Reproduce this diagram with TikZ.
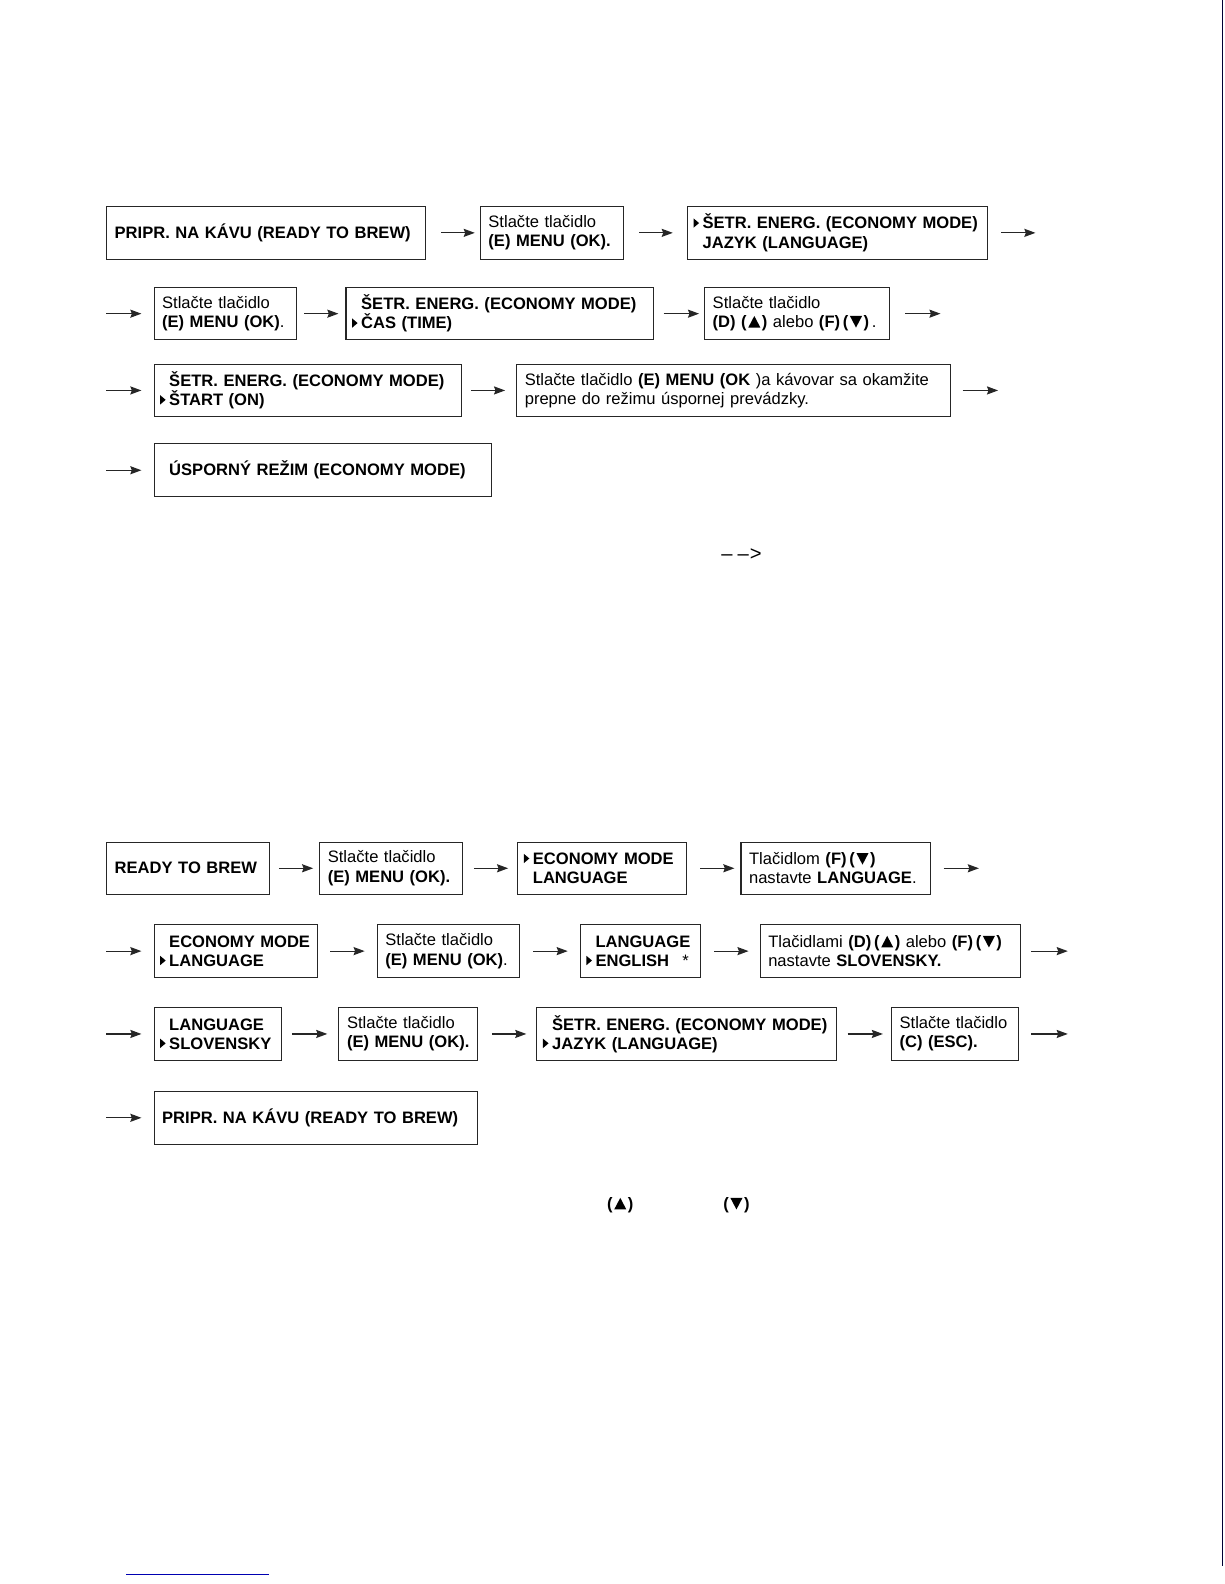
\documentclass[tikz,border=0pt]{standalone}
\usepackage{fontspec}
\setmainfont{Liberation Sans}
\usetikzlibrary{arrows.meta}

\newcommand{\fsz}{\fontsize{16.4}{19}\selectfont}
% cursor marker in front of the selected menu line
\newcommand{\mk}{\hspace*{-2pt}\makebox[9pt][l]{\tikz[x=1pt,y=1pt,baseline=0pt]\fill (0,1.2)--(0,10.5)--(5.5,5.85)--cycle;}}
\newcommand{\nomk}{\hspace*{7pt}}
% key symbols
\newcommand{\keyup}{\hspace{1.5pt}\tikz[x=1pt,y=1pt,baseline=0pt]\fill (0.5,0)--(12.5,0)--(6.5,11.5)--cycle;\hspace{1.5pt}}
\newcommand{\keydn}{\hspace{1.5pt}\tikz[x=1pt,y=1pt,baseline=0pt]\fill (0.5,11.5)--(12.5,11.5)--(6.5,0)--cycle;\hspace{1.5pt}}

\tikzset{
  menubox/.style={draw=black!85, line width=1pt, anchor=north west, minimum height=52pt,
    inner xsep=8pt, inner ysep=2pt, align=left, font=\fsz},
  flow/.style={-{Stealth[length=11pt,width=8pt,inset=1.5pt]}, line width=1.2pt, black!85},
}

\begin{document}
\begin{tikzpicture}[x=1pt, y=-1pt]
    \useasboundingbox (0,0) rectangle (1212,1568);

    % Economy mode sequence
    \node[menubox, text width=300pt] (A1) at (105,204) {\mbox{\textbf{PRIPR. NA KÁVU (READY TO BREW)}}};
    \node[menubox, text width=126pt] (A2) at (475,204) {\mbox{Stlačte tlačidlo}\\\mbox{\textbf{(E) MENU (OK).}}};
    \node[menubox, text width=281pt] (A3) at (680,204) {\mbox{\mk\textbf{ŠETR. ENERG. (ECONOMY MODE)}}\\\mbox{\nomk\textbf{JAZYK (LANGUAGE)}}};

    \node[menubox, text width=125pt] (B1) at (152,284) {\mbox{Stlačte tlačidlo}\\\mbox{\textbf{(E) MENU (OK)}.}};
    \node[menubox, text width=288pt] (B2) at (342,284) {\mbox{\nomk\textbf{ŠETR. ENERG. (ECONOMY MODE)}}\\\mbox{\mk\textbf{ČAS (TIME)}}};
    \node[menubox, text width=167pt] (B3) at (697,284) {\mbox{Stlačte tlačidlo}\\\mbox{\textbf{(D) (\keyup)} alebo \textbf{(F)\,(\keydn)}\,.}};

    \node[menubox, text width=288pt] (C1) at (152,360) {\mbox{\nomk\textbf{ŠETR. ENERG. (ECONOMY MODE)}}\\\mbox{\mk\textbf{ŠTART (ON)}}};
    \node[menubox, text width=413pt] (C2) at (511,360) {\mbox{Stlačte tlačidlo \textbf{(E) MENU (OK} )a kávovar sa okamžite}\\\mbox{prepne do režimu úspornej prevádzky.}};

    \node[menubox, text width=318pt] (D1) at (152,439) {\mbox{\nomk\textbf{ÚSPORNÝ REŽIM (ECONOMY MODE)}}};

    % arrows, economy mode
    \draw[flow, shorten <=15pt, shorten >=5pt] (A1.east) -- (A2.west);
    \draw[flow, shorten <=15pt, shorten >=14pt] (A2.east) -- (A3.west);
    \coordinate (Aout) at ([xshift=47pt]A3.east);
    \draw[flow, shorten <=13pt] (A3.east) -- (Aout);

    \coordinate (Bin) at ([xshift=-47pt]B1.west);
    \draw[flow, shorten >=12pt] (Bin) -- (B1.west);
    \draw[flow, shorten <=7pt, shorten >=7pt] (B1.east) -- (B2.west);
    \draw[flow, shorten <=10pt, shorten >=5pt] (B2.east) -- (B3.west);
    \coordinate (Bout) at ([xshift=50pt]B3.east);
    \draw[flow, shorten <=15pt] (B3.east) -- (Bout);

    \coordinate (Cin) at ([xshift=-47pt]C1.west);
    \draw[flow, shorten >=12pt] (Cin) -- (C1.west);
    \draw[flow, shorten <=9pt, shorten >=11pt] (C1.east) -- (C2.west);
    \coordinate (Cout) at ([xshift=47pt]C2.east);
    \draw[flow, shorten <=12pt] (C2.east) -- (Cout);

    \coordinate (Din) at ([xshift=-47pt]D1.west);
    \draw[flow, shorten >=12pt] (Din) -- (D1.west);

    \node[font=\fontsize{20}{20}\selectfont] (hint) at (734,549) {–\hspace{5pt}–\hspace{1pt}>};

    % Language sequence
    \node[menubox, text width=145pt] (E1) at (105,833) {\mbox{\textbf{READY TO BREW}}};
    \node[menubox, text width=125pt] (E2) at (316,833) {\mbox{Stlačte tlačidlo}\\\mbox{\textbf{(E) MENU (OK).}}};
    \node[menubox, text width=151pt] (E3) at (512,833) {\mbox{\mk\textbf{ECONOMY MODE}}\\\mbox{\nomk\textbf{LANGUAGE}}};
    \node[menubox, text width=172pt] (E4) at (733,833) {\mbox{Tlačidlom \textbf{(F)\,(\keydn)}}\\\mbox{nastavte \textbf{LANGUAGE}.}};

    \node[menubox, text width=146pt] (F1) at (152,915) {\mbox{\nomk\textbf{ECONOMY MODE}}\\\mbox{\mk\textbf{LANGUAGE}}};
    \node[menubox, text width=125pt] (F2) at (373,915) {\mbox{Stlačte tlačidlo}\\\mbox{\textbf{(E) MENU (OK)}.}};
    \node[menubox, text width=103pt] (F3) at (574,915) {\mbox{\nomk\textbf{LANGUAGE}}\\\mbox{\mk\textbf{ENGLISH}\hspace{13pt}*}};
    \node[menubox, text width=242pt] (F4) at (752,915) {\mbox{Tlačidlami \textbf{(D)\,(\keyup)} alebo \textbf{(F)\,(\keydn)}}\\\mbox{nastavte \textbf{SLOVENSKY.}}};

    \node[menubox, text width=110pt] (G1) at (152,997) {\mbox{\nomk\textbf{LANGUAGE}}\\\mbox{\mk\textbf{SLOVENSKY}}};
    \node[menubox, text width=121pt] (G2) at (335,997) {\mbox{Stlačte tlačidlo}\\\mbox{\textbf{(E) MENU (OK).}}};
    \node[menubox, text width=281pt] (G3) at (531,997) {\mbox{\nomk\textbf{ŠETR. ENERG. (ECONOMY MODE)}}\\\mbox{\mk\textbf{JAZYK (LANGUAGE)}}};
    \node[menubox, text width=110pt] (G4) at (882,997) {\mbox{Stlačte tlačidlo}\\\mbox{\textbf{(C) (ESC).}}};

    \node[menubox, text width=304pt] (H1) at (152,1080) {\mbox{\textbf{PRIPR. NA KÁVU (READY TO BREW)}}};

    % arrows, language
    \draw[flow, shorten <=9pt, shorten >=6pt] (E1.east) -- (E2.west);
    \draw[flow, shorten <=11pt, shorten >=9pt] (E2.east) -- (E3.west);
    \draw[flow, shorten <=13pt, shorten >=6pt] (E3.east) -- (E4.west);
    \coordinate (Eout) at ([xshift=47pt]E4.east);
    \draw[flow, shorten <=12pt] (E4.east) -- (Eout);

    \coordinate (Fin) at ([xshift=-47pt]F1.west);
    \draw[flow, shorten >=12pt] (Fin) -- (F1.west);
    \draw[flow, shorten <=12pt, shorten >=12pt] (F1.east) -- (F2.west);
    \draw[flow, shorten <=13pt, shorten >=12pt] (F2.east) -- (F3.west);
    \draw[flow, shorten <=13pt, shorten >=11pt] (F3.east) -- (F4.west);
    \coordinate (Fout) at ([xshift=46pt]F4.east);
    \draw[flow, shorten <=10pt] (F4.east) -- (Fout);

    \coordinate (Gin) at ([xshift=-47pt]G1.west);
    \draw[flow, shorten >=12pt] (Gin) -- (G1.west);
    \draw[flow, shorten <=10pt, shorten >=11pt] (G1.east) -- (G2.west);
    \draw[flow, shorten <=14pt, shorten >=10pt] (G2.east) -- (G3.west);
    \draw[flow, shorten <=10pt, shorten >=8pt] (G3.east) -- (G4.west);
    \coordinate (Gout) at ([xshift=48pt]G4.east);
    \draw[flow, shorten <=12pt] (G4.east) -- (Gout);

    \coordinate (Hin) at ([xshift=-47pt]H1.west);
    \draw[flow, shorten >=12pt] (Hin) -- (H1.west);

    \node[font=\fsz\bfseries] (keyup) at (614,1193) {(\keyup)};
    \node[font=\fsz\bfseries] (keydown) at (729,1193) {(\keydn)};

    % page edge and footer rule
    \draw[line width=1.2pt, black!80!blue] (1210.5,0) -- (1210.5,1550);
    \draw[line width=0.8pt, blue!70!black] (125,1558) -- (266,1558);
\end{tikzpicture}
\end{document}
